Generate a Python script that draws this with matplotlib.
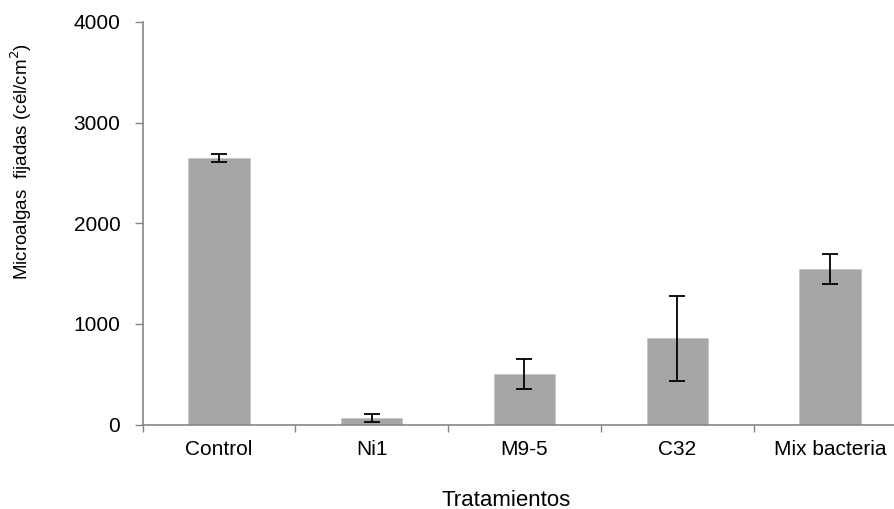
import numpy as np
import matplotlib
matplotlib.use("Agg")
import matplotlib.pyplot as plt

plt.rcParams['font.family'] = ['Liberation Sans', 'DejaVu Sans']

tratamientos = ["Control", "Ni1", "M9-5", "C32", "Mix bacteria"]
medias = [2650, 65, 500, 856, 1543]
errores = [42, 43, 148, 424, 148]
yticks = [0, 1000, 2000, 3000, 4000]

fig = plt.figure(figsize=(8.95, 5.09), dpi=100)
ax = fig.add_axes([0.1593, 0.166, 0.8534, 0.7908])

x = np.arange(len(tratamientos))
ax.bar(x, medias, width=0.4, color="#a6a6a6", edgecolor="#c8c8c8", linewidth=0.6, zorder=2)
ax.errorbar(x, medias, yerr=errores, fmt="none", ecolor="black", elinewidth=1.3,
            capsize=5.5, capthick=1.3, zorder=3)

ax.set_xlim(-0.5, len(tratamientos) - 0.5)
ax.set_ylim(0, 4000)
ax.set_yticks(yticks)
ax.set_yticklabels([str(v) for v in yticks], fontsize=15)

ax.set_xticks(x)
ax.set_xticklabels(tratamientos, fontsize=15)
ax.tick_params(axis="x", which="major", length=0, pad=11)
ax.set_xticks(np.arange(-0.5, len(tratamientos)), minor=True)
ax.tick_params(axis="x", which="minor", length=5, color="#868686", width=1)
ax.tick_params(axis="y", length=6, color="#868686", width=1, pad=10)

for s in ["top", "right"]:
    ax.spines[s].set_visible(False)
for s in ["left", "bottom"]:
    ax.spines[s].set_color("#868686")
    ax.spines[s].set_linewidth(1.2)

fig.text(506 / 895, 1 - 500 / 509, "Tratamientos", fontsize=16, ha="center", va="center")
fig.text(21 / 895, 1 - 161 / 509, "Microalgas  fijadas (cél/cm$^2$)", fontsize=13.5,
         ha="center", va="center", rotation=90)

fig.savefig("out.png", dpi=100)
